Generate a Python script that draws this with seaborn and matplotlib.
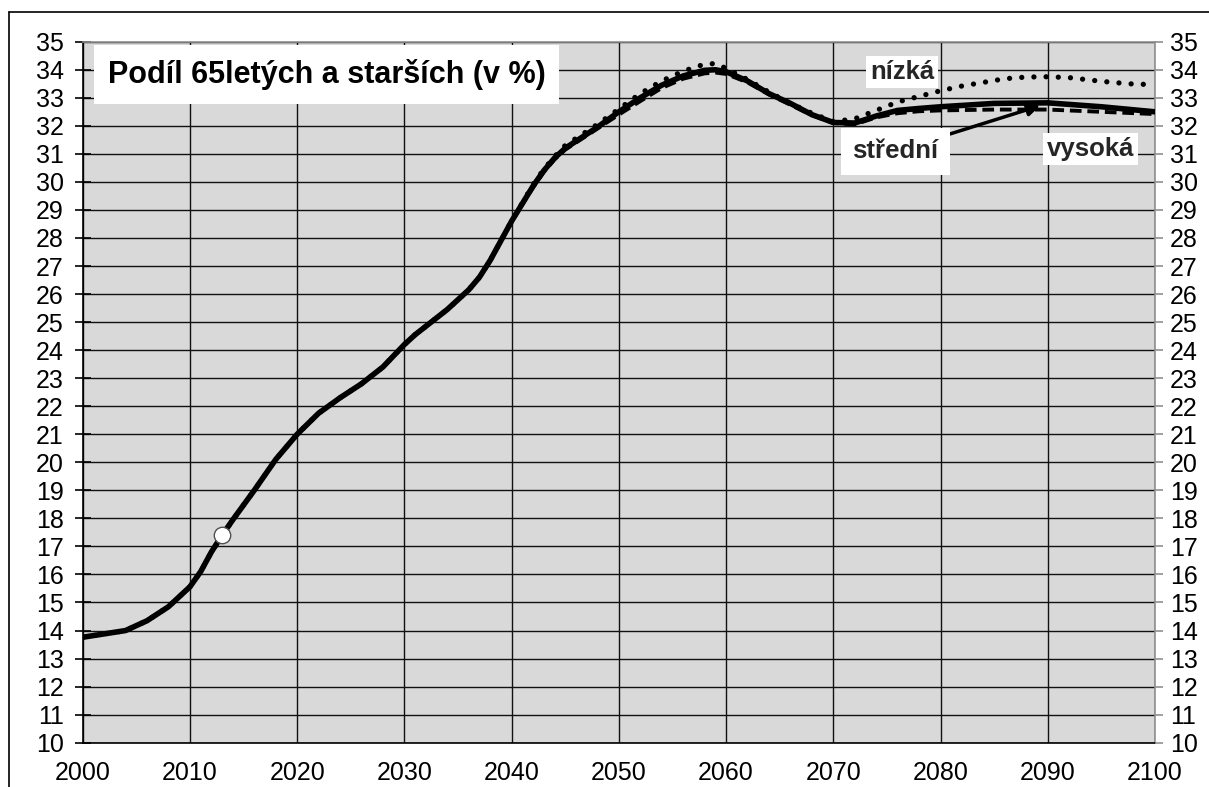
import matplotlib
matplotlib.use("Agg")
import matplotlib.pyplot as plt
from matplotlib.lines import Line2D
import seaborn as sns
import pandas as pd

# ---- data ----
years_mid = [2000, 2002, 2004, 2006, 2008, 2010, 2011, 2012, 2013, 2014, 2016, 2018, 2020,
             2022, 2024, 2026, 2028, 2029, 2030, 2031, 2032, 2034, 2035, 2036, 2037, 2038,
             2039, 2040, 2042, 2043, 2044, 2045, 2046, 2048, 2050, 2052, 2054, 2056, 2058,
             2059, 2060, 2062, 2064, 2066, 2068, 2070, 2072, 2074, 2076, 2078, 2080, 2085,
             2090, 2095, 2100]
stredni = [13.76, 13.88, 14.0, 14.35, 14.85, 15.56, 16.1, 16.8, 17.4, 17.95, 19.0, 20.1, 21.0,
           21.75, 22.3, 22.8, 23.4, 23.8, 24.2, 24.55, 24.85, 25.45, 25.8, 26.15, 26.6, 27.2,
           27.9, 28.6, 29.85, 30.4, 30.85, 31.2, 31.45, 31.95, 32.5, 33.0, 33.45, 33.78, 33.98,
           34.0, 33.93, 33.6, 33.15, 32.8, 32.4, 32.12, 32.1, 32.35, 32.55, 32.62, 32.68, 32.8,
           32.82, 32.68, 32.5]

years_low = [2000, 2002, 2004, 2006, 2008, 2010, 2011, 2012, 2014, 2016, 2018, 2020, 2022,
             2024, 2026, 2028, 2029, 2030, 2031, 2032, 2034, 2035, 2036, 2037, 2038, 2039,
             2040, 2042, 2043, 2044, 2045, 2046, 2048, 2050, 2052, 2054, 2056, 2058, 2059,
             2060, 2062, 2064, 2066, 2068, 2070, 2072, 2074, 2076, 2078, 2080, 2082, 2084,
             2086, 2088, 2090, 2092, 2094, 2096, 2098, 2100]
nizka = [13.76, 13.88, 14.0, 14.35, 14.85, 15.56, 16.1, 16.8, 17.95, 19.0, 20.1, 21.0, 21.75,
         22.3, 22.8, 23.4, 23.8, 24.2, 24.55, 24.85, 25.45, 25.8, 26.15, 26.6, 27.2, 27.9,
         28.6, 29.9, 30.45, 30.9, 31.3, 31.55, 32.05, 32.6, 33.15, 33.6, 33.95, 34.2, 34.22,
         34.05, 33.65, 33.2, 32.8, 32.45, 32.15, 32.25, 32.55, 32.85, 33.05, 33.25, 33.42,
         33.55, 33.68, 33.74, 33.75, 33.72, 33.63, 33.55, 33.49, 33.47]

years_high = [2000, 2002, 2004, 2006, 2008, 2010, 2011, 2012, 2014, 2016, 2018, 2020, 2022,
              2024, 2026, 2028, 2029, 2030, 2031, 2032, 2034, 2035, 2036, 2037, 2038, 2039,
              2040, 2042, 2043, 2044, 2045, 2046, 2048, 2050, 2052, 2054, 2056, 2058, 2059,
              2060, 2062, 2064, 2066, 2068, 2070, 2072, 2074, 2076, 2078, 2080, 2085, 2090,
              2095, 2100]
vysoka = [13.76, 13.88, 14.0, 14.35, 14.85, 15.56, 16.1, 16.8, 17.95, 19.0, 20.1, 21.0, 21.75,
          22.3, 22.8, 23.4, 23.8, 24.2, 24.55, 24.85, 25.45, 25.8, 26.15, 26.6, 27.2, 27.9,
          28.6, 29.8, 30.35, 30.8, 31.15, 31.4, 31.9, 32.4, 32.88, 33.35, 33.68, 33.87, 33.9,
          33.85, 33.55, 33.12, 32.75, 32.38, 32.1, 32.05, 32.3, 32.45, 32.52, 32.55, 32.58,
          32.58, 32.5, 32.42]

marker_year = [2013]
marker_value = [17.4]

title_text = "Podíl 65letých a starších (v %)"
label_low = "nízká"
label_mid = "střední"
label_high = "vysoká"
x_ticks = list(range(2000, 2101, 10))
y_ticks = list(range(10, 36))

# ---- style ----
sns.set_theme(style="white")
plt.rcParams["font.family"] = ["Liberation Sans", "DejaVu Sans"]

fig = plt.figure(figsize=(12.09, 7.87), dpi=100)
ax = fig.add_axes([0.0684, 0.0563, 0.9553 - 0.0684, 0.947 - 0.0563])
ax.set_facecolor("#d9d9d9")

df_high = pd.DataFrame({"rok": years_high, "podil": vysoka})
df_low = pd.DataFrame({"rok": years_low, "podil": nizka})
df_mid = pd.DataFrame({"rok": years_mid, "podil": stredni})

sns.lineplot(data=df_high, x="rok", y="podil", ax=ax, color="black", lw=2.8,
             linestyle=(0, (3.0, 1.5)), zorder=3)
sns.lineplot(data=df_low, x="rok", y="podil", ax=ax, color="black", lw=3.8,
             linestyle=(0, (0.01, 2.3)), dash_capstyle="round", zorder=3)
sns.lineplot(data=df_mid, x="rok", y="podil", ax=ax, color="black", lw=4.0,
             zorder=4, solid_joinstyle="round")
sns.scatterplot(x=marker_year, y=marker_value, ax=ax, s=140, color="white",
                edgecolor="#505050", linewidth=1.0, zorder=5)

ax.set_xlim(2000, 2100)
ax.set_ylim(10, 35)
ax.set_xticks(x_ticks)
ax.set_yticks(y_ticks)
ax.set_xlabel("")
ax.set_ylabel("")
ax.grid(True, color="#111111", lw=1.0)
ax.set_axisbelow(True)

for s in ["left", "bottom"]:
    ax.spines[s].set_color("black")
    ax.spines[s].set_linewidth(1.2)
for s in ["right", "top"]:
    ax.spines[s].set_color("#909090")
    ax.spines[s].set_linewidth(1.2)

ax.tick_params(axis="y", direction="inout", length=11, width=1.2, color="black",
               labelsize=18, pad=8, labelcolor="black")
ax.tick_params(axis="x", direction="out", length=6, width=1.2, color="black",
               labelsize=18, pad=7, labelcolor="black")

ax2 = ax.twinx()
ax2.set_ylim(10, 35)
ax2.set_yticks(y_ticks)
ax2.tick_params(axis="y", direction="out", length=6, width=1.2, color="#909090",
                labelsize=18, pad=5, labelcolor="black")
ax2.grid(False)
for s in ax2.spines.values():
    s.set_visible(False)

# title box
ax.text(0.2276, 0.953, title_text, transform=ax.transAxes, ha="center", va="center",
        fontsize=22, fontweight="bold", color="black", zorder=6,
        bbox=dict(boxstyle="square,pad=0.45", facecolor="white", edgecolor="none"))

lbl_box = dict(boxstyle="square,pad=0.15", facecolor="white", edgecolor="none")
ax.text(2076.4, 33.93, label_low, ha="center", va="center", fontsize=18.5,
        fontweight="bold", zorder=6, bbox=lbl_box)
ax.text(2094.0, 31.17, label_high, ha="center", va="center", fontsize=18.5,
        fontweight="bold", zorder=6, bbox=lbl_box)
ax.annotate(label_mid, xy=(2089.3, 32.72), xytext=(2075.8, 31.1),
            ha="center", va="center", fontsize=18.5, fontweight="bold", zorder=6,
            bbox=dict(boxstyle="square,pad=0.45", facecolor="white", edgecolor="none"),
            arrowprops=dict(arrowstyle="-|>", color="black", lw=2.5, mutation_scale=18,
                            shrinkA=0, shrinkB=0))

# figure border (left & top)
fig.add_artist(Line2D([9 / 1209, 9 / 1209], [0, 1 - 11.5 / 787], color="black",
                      lw=1.2, transform=fig.transFigure))
fig.add_artist(Line2D([9 / 1209, 1], [1 - 11.5 / 787, 1 - 11.5 / 787], color="black",
                      lw=1.2, transform=fig.transFigure))

fig.savefig("out.png", dpi=100)
